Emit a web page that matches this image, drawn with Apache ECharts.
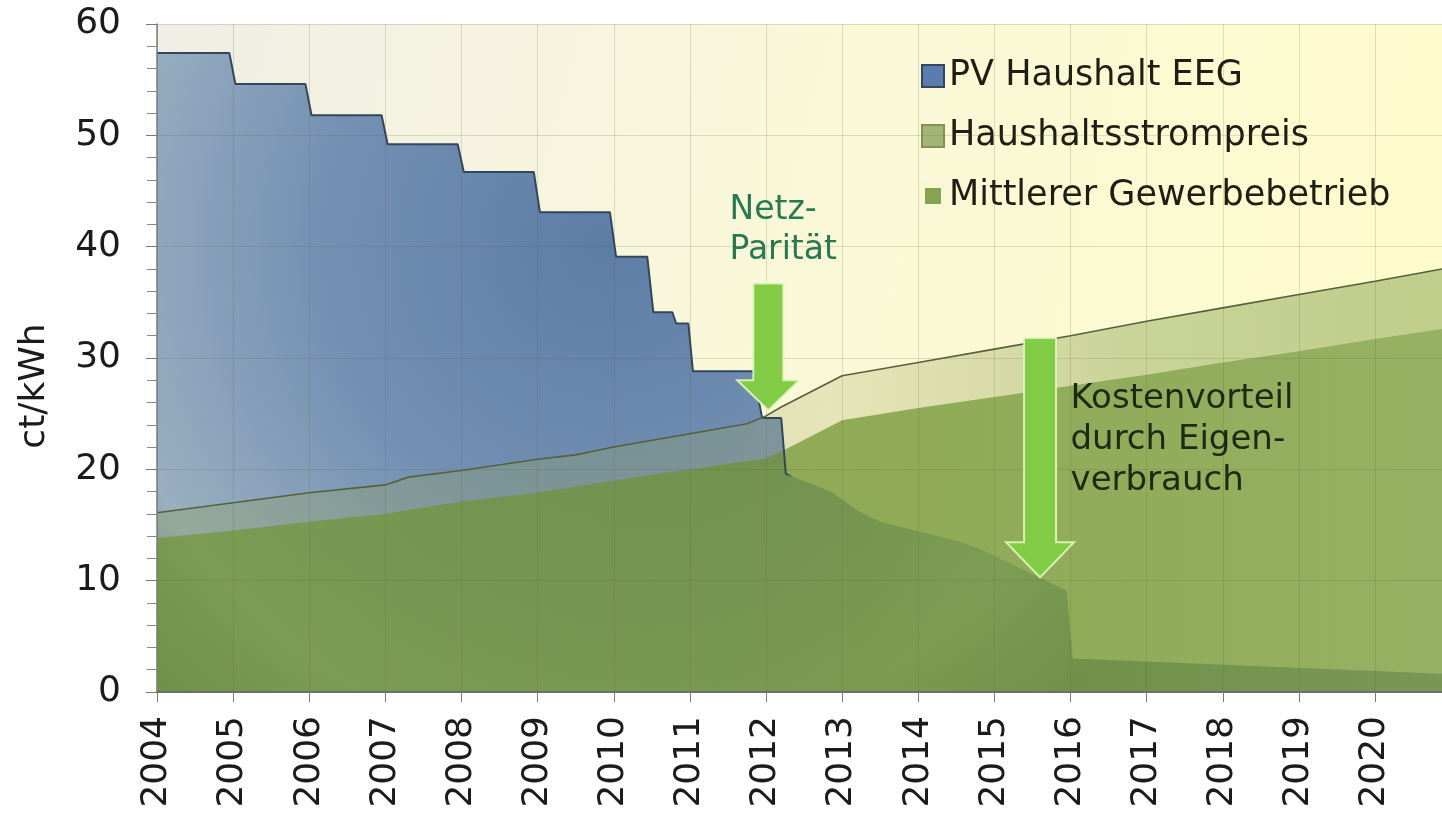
<!DOCTYPE html>
<html>
<head>
<meta charset="utf-8">
<script src="https://cdn.jsdelivr.net/npm/echarts@6/dist/echarts.min.js"></script>
<style>
  html, body { margin: 0; padding: 0; background: #fff; }
  #chart { width: 1442px; height: 813px; }
</style>
</head>
<body>
<div id="chart"></div>
<script>
// PV Einspeiseverguetung (EEG), Stufen mit kurzen Uebergaengen
var pvYears = [2004, 2004.95, 2005.03, 2005.95, 2006.03, 2006.95, 2007.03, 2007.95, 2008.03,
  2008.95, 2009.03, 2009.95, 2010.03, 2010.44, 2010.52, 2010.77, 2010.82, 2010.98, 2011.04,
  2011.83, 2011.95, 2012.2, 2012.26, 2012.85, 2013.2, 2013.5, 2014.55, 2014.8, 2015.95,
  2016.03, 2020.88];
var pvValues = [57.4, 57.4, 54.6, 54.6, 51.8, 51.8, 49.2, 49.2, 46.7,
  46.7, 43.1, 43.1, 39.1, 39.1, 34.1, 34.1, 33.1, 33.1, 28.8,
  28.8, 24.6, 24.6, 19.6, 18.0, 16.3, 15.3, 13.5, 12.9, 9.1,
  3.0, 1.65];

// Haushaltsstrompreis
var hhYears = [2004, 2005, 2006, 2007, 2007.3, 2008, 2009, 2009.5, 2010, 2011, 2011.75, 2012,
  2012.2, 2013, 2014, 2015, 2016, 2017, 2018, 2019, 2020, 2020.88];
var hhValues = [16.1, 17.0, 17.9, 18.6, 19.3, 19.9, 20.9, 21.3, 22.0, 23.2, 24.1, 24.8,
  25.6, 28.4, 29.6, 30.8, 32.0, 33.3, 34.5, 35.7, 36.9, 38.0];

// Mittlerer Gewerbebetrieb
var gwYears = [2004, 2005, 2006, 2007, 2008, 2009, 2010, 2011, 2012, 2012.2, 2013, 2014,
  2015, 2016, 2017, 2018, 2019, 2020, 2020.88];
var gwValues = [13.8, 14.5, 15.3, 16.0, 17.1, 17.9, 19.0, 20.0, 21.0, 21.6, 24.4, 25.5,
  26.5, 27.5, 28.5, 29.6, 30.6, 31.7, 32.6];

var seriesNames = ["PV Haushalt EEG", "Haushaltsstrompreis", "Mittlerer Gewerbebetrieb"];

var font = "DejaVu Sans";

function pairs(xs, ys) {
  return xs.map(function (x, i) { return [x, ys[i]]; });
}

var chart = echarts.init(document.getElementById("chart"));

var gridLine = { show: true, lineStyle: { color: "rgba(90,90,50,0.18)", width: 1 } };

chart.setOption({
  animation: false,
  grid: {
    left: 157, right: 0, top: 24, bottom: 121,
    show: true, borderWidth: 0,
    backgroundColor: new echarts.graphic.LinearGradient(0, 0, 1, 0.5, [
      { offset: 0, color: "#f0eee6" },
      { offset: 0.5, color: "#faf8d8" },
      { offset: 1, color: "#fefccb" }
    ])
  },
  legend: {
    orient: "vertical",
    left: 914, top: 49,
    itemWidth: 22, itemHeight: 22, itemGap: 16,
    selectedMode: false,
    textStyle: { fontFamily: font, fontSize: 35, color: "#1e1e14", lineHeight: 44 },
    data: [
      { name: seriesNames[0], icon: "rect", itemStyle: { color: "#5a7db0", borderColor: "#34465e", borderWidth: 2 } },
      { name: seriesNames[1], icon: "rect", itemStyle: { color: "#a4b476", borderColor: "#7f9158", borderWidth: 2 } },
      { name: seriesNames[2], icon: "rect", itemStyle: { color: "#86a350", borderColor: "#f9f8d6", borderWidth: 6 } }
    ]
  },
  xAxis: [{
    type: "value",
    min: 2004, max: 2020.88, interval: 1,
    z: 5,
    axisLine: { show: true, onZero: false, lineStyle: { color: "#7a7a7a", width: 1.5 } },
    axisTick: { show: true, length: 10, lineStyle: { color: "#7a7a7a" } },
    axisLabel: {
      rotate: 90, margin: 24, showMaxLabel: false,
      fontFamily: font, fontSize: 36, color: "#1b1b1b",
      formatter: function (v) { return String(v); }
    },
    splitLine: gridLine
  }, {
    type: "value", position: "top",
    min: 2004, max: 2020.88, z: 5,
    axisLine: { show: true, lineStyle: { color: "#6e6e6e", width: 2 } },
    axisTick: { show: false }, axisLabel: { show: false }, splitLine: { show: false }
  }],
  yAxis: {
    type: "value",
    min: 0, max: 60, interval: 10,
    z: 5,
    name: "ct/kWh", nameLocation: "middle", nameGap: 104,
    // right padding pushes the rotated name down to where the original sits
    nameTextStyle: { fontFamily: font, fontSize: 36, color: "#1b1b1b", padding: [0, 56, 0, 0] },
    axisLine: { show: true, lineStyle: { color: "#7a7a7a", width: 1.5 } },
    axisTick: { show: true, length: 11, lineStyle: { color: "#7a7a7a" } },
    minorTick: { show: true, splitNumber: 5, length: 10, lineStyle: { color: "#8a8a8a" } },
    axisLabel: { margin: 36, fontFamily: font, fontSize: 36, color: "#1b1b1b" },
    splitLine: gridLine
  },
  series: [{
    name: seriesNames[0],
    type: "line",
    data: pairs(pvYears, pvValues),
    symbol: "none",
    // the outline fades out where the curve runs beneath the green areas
    lineStyle: {
      width: 2,
      color: new echarts.graphic.LinearGradient(0, 0, 1, 0, [
        { offset: 0, color: "#33465b" },
        { offset: 0.49, color: "#33465b" },
        { offset: 0.495, color: "rgba(51,70,91,0)" },
        { offset: 1, color: "rgba(51,70,91,0)" }
      ])
    },
    areaStyle: {
      opacity: 1,
      color: new echarts.graphic.RadialGradient(0.35, 0.3, 1, [
        { offset: 0, color: "#5d7da6" },
        { offset: 0.45, color: "#7490b3" },
        { offset: 0.8, color: "#9aafc0" },
        { offset: 1, color: "#5c7082" }
      ])
    }
  }, {
    name: seriesNames[1],
    type: "line",
    data: pairs(hhYears, hhValues),
    symbol: "none",
    lineStyle: { color: "#55613c", width: 1.6 },
    areaStyle: {
      opacity: 1,
      color: new echarts.graphic.LinearGradient(0, 0, 1, 0, [
        { offset: 0, color: "rgba(140,160,90,0.35)" },
        { offset: 0.45, color: "rgba(150,165,95,0.3)" },
        { offset: 0.52, color: "rgba(170,170,100,0.25)" },
        { offset: 0.75, color: "rgba(140,165,85,0.45)" },
        { offset: 1, color: "rgba(140,165,85,0.55)" }
      ])
    }
  }, {
    name: seriesNames[2],
    type: "line",
    data: pairs(gwYears, gwValues),
    symbol: "none",
    lineStyle: { width: 0 },
    itemStyle: { color: "#86a350" },
    areaStyle: {
      opacity: 1,
      color: new echarts.graphic.LinearGradient(0, 0, 1, 0, [
        { offset: 0, color: "rgba(110,150,54,0.7)" },
        { offset: 0.55, color: "rgba(108,146,46,0.7)" },
        { offset: 1, color: "rgba(122,158,72,0.6)" }
      ])
    }
  }]
});

// Pfeile und Beschriftungen, in Datenkoordinaten verankert
var arrows = [
  { x: 2012.03, top: 36.7, headBase: 28.0, tip: 25.3, shaft: 15, head: 31 },
  { x: 2015.6, top: 31.8, headBase: 13.45, tip: 10.3, shaft: 16, head: 34 }
];
var notes = [
  { text: "Netz-\nParität", x: 2011.52, y: 41.5, color: "#267a52", size: 33, lineHeight: 40 },
  { text: "Kostenvorteil\ndurch Eigen-\nverbrauch", x: 2016.0, y: 22.6, color: "#1c2a12", size: 34, lineHeight: 41 }
];

function px(x, y) {
  return chart.convertToPixel({ xAxisIndex: 0, yAxisIndex: 0 }, [x, y]);
}

var graphics = [];
arrows.forEach(function (a) {
  var t = px(a.x, a.top), b = px(a.x, a.headBase), p = px(a.x, a.tip);
  graphics.push({
    type: "polygon",
    z: 20,
    shape: { points: [
      [t[0] - a.shaft, t[1]], [t[0] + a.shaft, t[1]],
      [b[0] + a.shaft, b[1]], [b[0] + a.head, b[1]],
      [p[0], p[1]],
      [b[0] - a.head, b[1]], [b[0] - a.shaft, b[1]]
    ] },
    style: { fill: "#82cb45", stroke: "rgba(225,245,190,0.9)", lineWidth: 2 }
  });
});
notes.forEach(function (n) {
  var q = px(n.x, n.y);
  graphics.push({
    type: "text",
    z: 20,
    x: q[0], y: q[1],
    style: {
      text: n.text, fill: n.color,
      font: n.size + "px '" + font + "'",
      lineHeight: n.lineHeight,
      align: "left", verticalAlign: "middle"
    }
  });
});
chart.setOption({ graphic: graphics });
</script>
</body>
</html>
